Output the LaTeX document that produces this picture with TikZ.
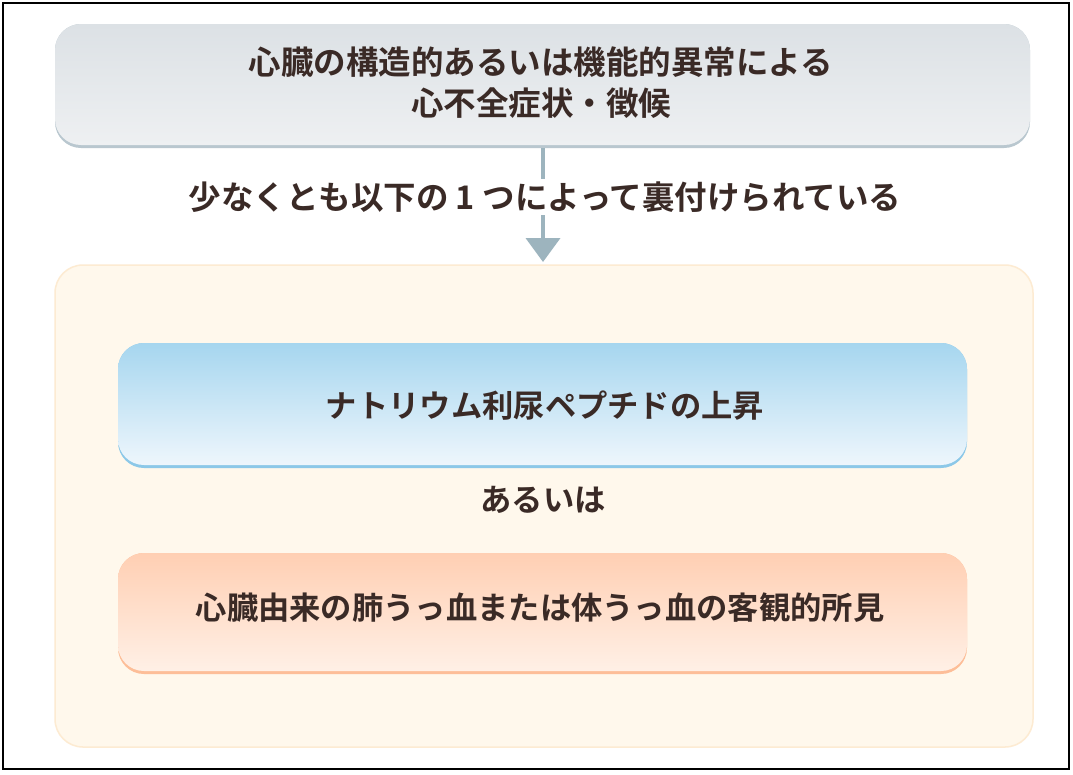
\documentclass[tikz,border=0pt]{standalone}
\usepackage{fontspec}
\setmainfont{Noto Sans CJK JP}[BoldFont={Noto Sans CJK JP Bold}]
\usetikzlibrary{arrows.meta,positioning}
\definecolor{txt}{HTML}{3A2A26}
\definecolor{arrowc}{HTML}{9DB4BE}
\definecolor{grayTop}{HTML}{DCE1E5}
\definecolor{grayBot}{HTML}{EEF0F2}
\definecolor{grayEdge}{HTML}{B9C7CF}
\definecolor{blueTop}{HTML}{A6D6EF}
\definecolor{blueBot}{HTML}{EEF6FC}
\definecolor{blueEdge}{HTML}{8CC8E8}
\definecolor{orTop}{HTML}{FFCFB3}
\definecolor{orBot}{HTML}{FFF0E6}
\definecolor{orEdge}{HTML}{FDBE98}
\definecolor{cream}{HTML}{FFF8EC}
\definecolor{creamEdge}{HTML}{FDEBD2}
\tikzset{
  x=1pt,y=-1pt,
  lbl/.style={text=txt,font=\bfseries\fontsize{32.5}{41}\selectfont,align=center},
  boxlbl/.style={lbl,font=\bfseries\fontsize{31.3}{40}\selectfont},
}
\begin{document}
\begin{tikzpicture}
\useasboundingbox (0,0) rectangle (1073,774);
\fill[white] (0,0) rectangle (1073,774);
\draw[line width=2pt,black] (3,3) rectangle (1069,769);
% cream container
\draw[fill=cream,draw=creamEdge,line width=1.5pt,rounded corners=28pt] (55,265) rectangle (1033,747);
% top box
\fill[grayEdge,rounded corners=26pt] (55,24) rectangle (1030,148);
\shade[top color=grayTop,bottom color=grayBot,rounded corners=26pt] (55,24) rectangle (1030,145);
\node[lbl] (top) at (541,83) {心臓の構造的あるいは機能的異常による\\心不全症状・徴候};
% arrow
\coordinate (a1) at (543,148);
\coordinate (a2) at (543,262);
\draw[arrowc,line width=4pt,-{Triangle[width=34pt,length=24pt]}] (a1) -- (a2);
\node[lbl,fill=white,inner sep=3pt] (mid) at (545,197) {少なくとも以下の 1 つによって裏付けられている};
% blue box
\fill[blueEdge,rounded corners=26pt] (118,343) rectangle (967,468);
\shade[top color=blueTop,bottom color=blueBot,rounded corners=26pt] (118,343) rectangle (967,465);
\node[boxlbl] (nat) at (545,406) {ナトリウム利尿ペプチドの上昇};
\node[boxlbl] (or) at (543,500) {あるいは};
% orange box
\fill[orEdge,rounded corners=26pt] (118,553) rectangle (967,674);
\shade[top color=orTop,bottom color=orBot,rounded corners=26pt] (118,553) rectangle (967,671);
\node[boxlbl] (cong) at (540,608) {心臓由来の肺うっ血または体うっ血の客観的所見};
\end{tikzpicture}
\end{document}
